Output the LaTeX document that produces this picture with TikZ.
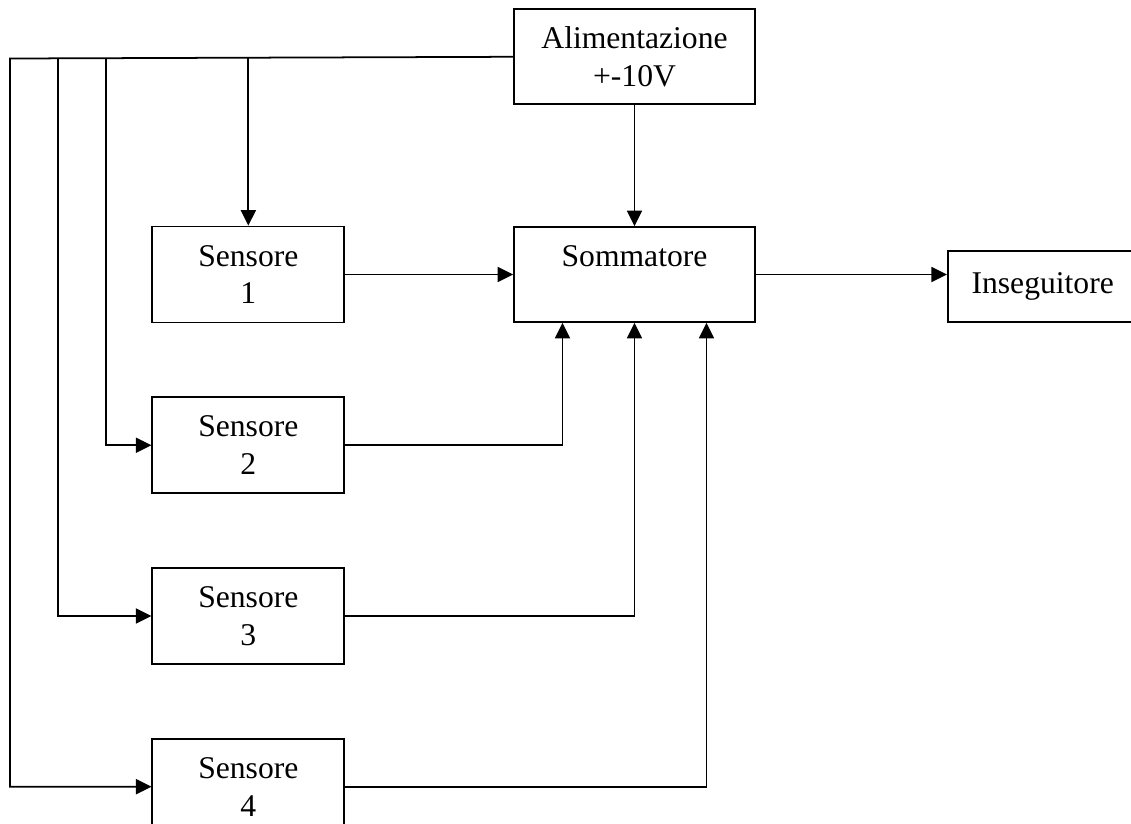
\documentclass[tikz,border=0pt]{standalone}
\usepackage{fontspec}
\setmainfont{Liberation Serif}
\usetikzlibrary{arrows.meta,positioning}
\tikzstyle{Block} = [draw, rectangle, align=center, line width=1pt, minimum width=4.82cm, minimum height=1.9cm]
\tikzstyle{Sensor} = [draw, rectangle, align=center, line width=1pt, minimum width=3.84cm, minimum height=1.92cm]

\begin{document}
\begin{tikzpicture}[x=0.02cm, y=-0.02cm, line width=1pt,
    >={Triangle[length=0.31cm, width=0.3cm]},
    font=\fontsize{18}{21.6}\selectfont]
    \useasboundingbox (0,0) rectangle (1131,823);
    \node[Block]  (somm)                      at (634.5,274.5) {Sommatore\\~};
    \node[Block]  (alim)  [above=2.42cm of somm]               {Alimentazione\\+-10V};
    \node[Sensor] (s1)    [left=3.36cm of somm]                {Sensore\\1};
    \node[Sensor] (s2)    [below=1.46cm of s1]                 {Sensore\\2};
    \node[Sensor] (s3)    [below=1.46cm of s2]                 {Sensore\\3};
    \node[Sensor] (s4)    [below=1.46cm of s3]                 {Sensore\\4};
    \node[Block, minimum width=3.8cm, minimum height=1.42cm]
                  (inseg) [right=3.82cm of somm.south east, anchor=south west] {Inseguitore};
    % linea di alimentazione
    \coordinate (b2) at (106,58.5);
    \coordinate (b3) at (58,58.5);
    \coordinate (b4) at (10,58.5);
    \draw[->] (alim.west) -- (b4) |- (s4.west);
    \draw[->] (b3) |- (s3.west);
    \draw[->] (b2) |- (s2.west);
    \draw[->] (alim.west -| s1.north) -- (s1.north);
    \draw[->] (alim) -- (somm);
    % uscite dei sensori
    \draw[->] (s1) -- (somm);
    \draw[->] (s2.east) -| ([xshift=-1.44cm]somm.south);
    \draw[->] (s3.east) -| (somm.south);
    \draw[->] (s4.east) -| ([xshift=1.44cm]somm.south);
    \draw[->] (somm.east) -- (somm.east -| inseg.west);
\end{tikzpicture}
\end{document}
